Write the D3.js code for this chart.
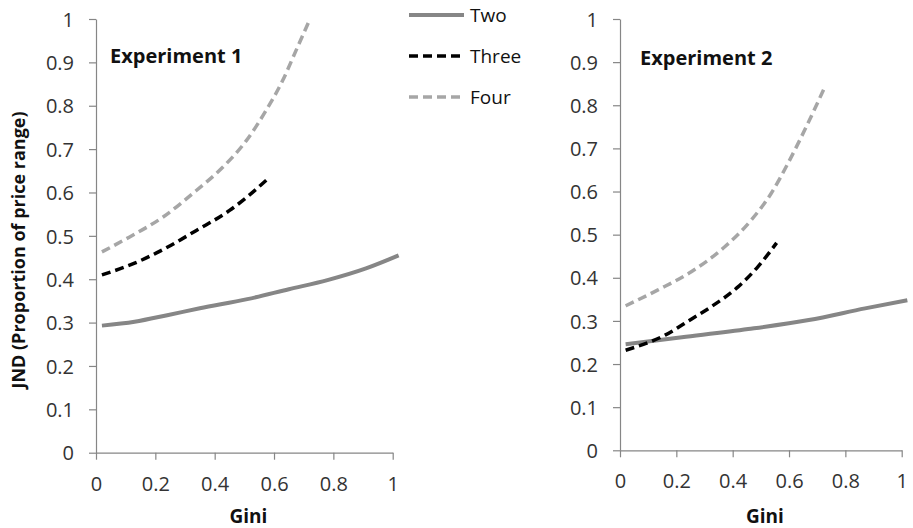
<!DOCTYPE html>
<html>
<head>
  <meta charset="utf-8">
  <script src="https://cdnjs.cloudflare.com/ajax/libs/d3/7.8.5/d3.min.js"></script>
  <title>JND by Gini</title>
  <style>
    body { margin: 0; background: #fff; }
    text { font-family: "Open Sans", sans-serif; fill: #111; }
    .axis path, .axis line { stroke: #868686; stroke-width: 1.2; }
    .axis text { font-size: 20px; fill: #333; font-family: "Open Sans", sans-serif; }
    .ttl { font-weight: bold; font-size: 19px; }
    .panel-label { font-weight: bold; font-size: 20px; }
  </style>
</head>
<body>
<script>
// Experiment 1
const exp1TwoX   = [0.02, 0.13, 0.24, 0.35, 0.51, 0.65, 0.78, 0.91, 1.02];
const exp1TwoY   = [0.293, 0.302, 0.317, 0.333, 0.354, 0.377, 0.398, 0.425, 0.455];
const exp1ThreeX = [0.02, 0.13, 0.225, 0.337, 0.449, 0.51, 0.575];
const exp1ThreeY = [0.41, 0.437, 0.468, 0.512, 0.558, 0.59, 0.629];
const exp1FourX  = [0.02, 0.112, 0.225, 0.337, 0.427, 0.506, 0.573, 0.629, 0.674, 0.72];
const exp1FourY  = [0.463, 0.497, 0.543, 0.604, 0.658, 0.719, 0.789, 0.858, 0.927, 0.998];

// Experiment 2
const exp2TwoX   = [0.02, 0.22, 0.455, 0.67, 0.87, 1.02];
const exp2TwoY   = [0.246, 0.262, 0.281, 0.302, 0.329, 0.348];
const exp2ThreeX = [0.02, 0.16, 0.253, 0.324, 0.419, 0.49, 0.556];
const exp2ThreeY = [0.232, 0.267, 0.304, 0.333, 0.379, 0.426, 0.481];
const exp2FourX  = [0.02, 0.135, 0.253, 0.372, 0.466, 0.537, 0.596, 0.656, 0.724];
const exp2FourY  = [0.335, 0.372, 0.414, 0.472, 0.534, 0.596, 0.665, 0.743, 0.838];

const seriesNames = ["Two", "Three", "Four"];
const xTicks = [0, 0.2, 0.4, 0.6, 0.8, 1];
const yTicks = [0, 0.1, 0.2, 0.3, 0.4, 0.5, 0.6, 0.7, 0.8, 0.9, 1];

const styles = {
  Two:   {color: "#868686", width: 4, dash: null},
  Three: {color: "#000000", width: 3.5, dash: "9,5"},
  Four:  {color: "#a6a6a6", width: 3.5, dash: "9,5"}
};

const svg = d3.select("body").append("svg")
    .attr("width", 913)
    .attr("height", 528);

const zip = (xs, ys) => xs.map((x, i) => [x, ys[i]]);

function panel(xRange, yRange, label, labelPos, lines) {
  const x = d3.scaleLinear().domain([0, 1]).range(xRange);
  const y = d3.scaleLinear().domain([0, 1]).range(yRange);

  const gx = svg.append("g")
     .attr("class", "axis")
     .attr("transform", "translate(0," + yRange[0] + ")")
     .call(d3.axisBottom(x).tickValues(xTicks).tickSize(7).tickSizeOuter(0)
            .tickFormat(d3.format("")));
  gx.selectAll("text").attr("y", 38).attr("dy", 0);

  const gy = svg.append("g")
     .attr("class", "axis")
     .attr("transform", "translate(" + xRange[0] + ",0)")
     .call(d3.axisLeft(y).tickValues(yTicks).tickSize(7).tickSizeOuter(0)
            .tickFormat(d3.format("")));
  gy.selectAll("text").attr("x", -22).attr("dy", "0.36em");

  svg.selectAll(".axis .domain").attr("fill", "none");

  const line = d3.line()
      .x(d => x(d[0]))
      .y(d => y(d[1]))
      .curve(d3.curveMonotoneX);

  lines.forEach(l => {
    const s = styles[l.name];
    svg.append("path")
       .datum(zip(l.xs, l.ys))
       .attr("d", line)
       .attr("fill", "none")
       .attr("stroke", s.color)
       .attr("stroke-width", s.width)
       .attr("stroke-dasharray", s.dash);
  });

  svg.append("text")
     .attr("class", "panel-label")
     .attr("x", labelPos[0])
     .attr("y", labelPos[1])
     .text(label);

  // x axis title
  svg.append("text")
     .attr("class", "ttl")
     .attr("x", (xRange[0] + xRange[1]) / 2 + 4)
     .attr("y", 523)
     .style("text-anchor", "middle")
     .text("Gini");
}

panel([96, 392.7], [452.7, 19], "Experiment 1", [110, 63], [
  {name: "Two",   xs: exp1TwoX,   ys: exp1TwoY},
  {name: "Three", xs: exp1ThreeX, ys: exp1ThreeY},
  {name: "Four",  xs: exp1FourX,  ys: exp1FourY}
]);

panel([620, 901.7], [450.3, 19], "Experiment 2", [640, 65], [
  {name: "Two",   xs: exp2TwoX,   ys: exp2TwoY},
  {name: "Three", xs: exp2ThreeX, ys: exp2ThreeY},
  {name: "Four",  xs: exp2FourX,  ys: exp2FourY}
]);

// y axis title
svg.append("text")
   .attr("class", "ttl")
   .style("font-size", "18px")
   .attr("transform", "translate(25,250) rotate(-90)")
   .style("text-anchor", "middle")
   .text("JND (Proportion of price range)");

// legend
const legend = svg.append("g");
seriesNames.forEach((name, i) => {
  const s = styles[name];
  const yy = 15 + i * 41;
  legend.append("line")
     .attr("x1", 409).attr("x2", 464)
     .attr("y1", yy).attr("y2", yy)
     .attr("stroke", s.color)
     .attr("stroke-width", s.width)
     .attr("stroke-dasharray", s.dash);
  legend.append("text")
     .attr("x", 470)
     .attr("y", yy + 7)
     .style("font-size", "19px")
     .text(name);
});
</script>
</body>
</html>
